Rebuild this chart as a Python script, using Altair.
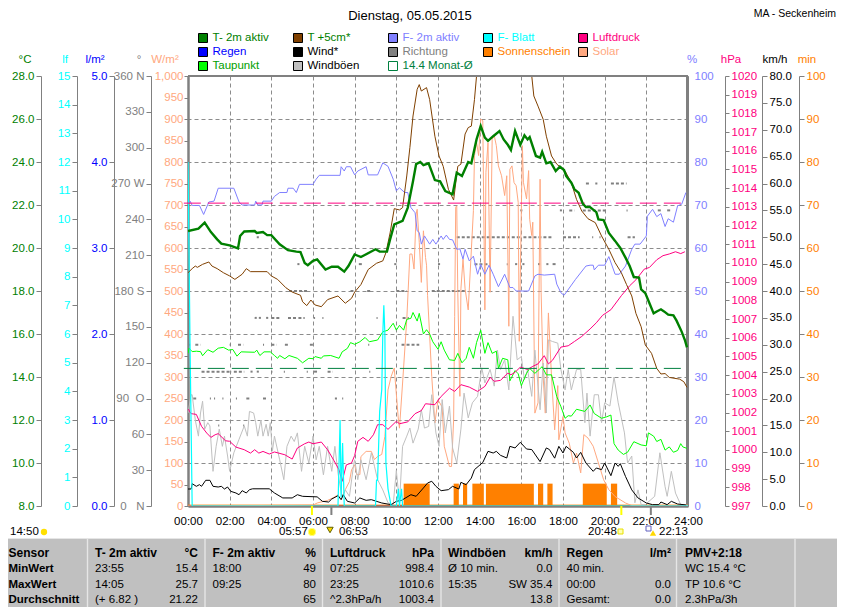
import altair as alt
import pandas as pd

FONT = "Liberation Sans"
GRAY = "#808080"
C_T = "#008000"; C_T5 = "#804000"; C_F = "#8080FF"; C_BL = "#00FFFF"; C_P = "#FF0080"
C_R = "#0000FF"; C_W = "#000000"; C_D = "#808080"; C_S = "#FF8000"; C_SOL = "#FFA880"
C_TP = "#00FF00"; C_B = "#C0C0C0"; C_M = "#008040"

T2M = [(0,20.79),(0.5,20.9),(0.8,21.18),(1.1,20.74),(1.4,20.4),(1.6,20.2),(2,20.12),(2.4,19.98),(2.5,20.56),(2.7,20.77),(3.2,20.79),(3.3,20.7),(3.6,20.74),(3.8,20.6),(4,20.6),(4.4,20.17),(4.8,19.9),(5.2,19.83),(5.4,19.81),(5.6,19.3),(5.75,19.2),(6,19.4),(6.2,19.47),(6.6,19.0),(6.9,19.13),(7.2,19.13),(7.5,18.9),(7.7,19.16),(8,19.7),(8.3,19.58),(9,19.94),(9.2,19.83),(9.55,19.83),(9.7,20.4),(9.9,21.1),(10.3,21.26),(10.55,21.88),(10.8,23.1),(10.95,23.9),(11.15,24.0),(11.3,23.85),(11.55,23.94),(11.85,23.16),(12.1,23.1),(12.35,22.65),(12.7,22.5),(12.9,23.5),(13.15,23.35),(13.45,24),(13.6,23.94),(13.85,25.05),(14.05,25.67),(14.25,25.13),(14.4,24.98),(14.65,25.2),(14.95,25.44),(15.15,25.05),(15.35,24.8),(15.5,24.56),(15.7,25.44),(15.95,24.8),(16.15,25.24),(16.3,25.05),(16.4,25.16),(16.7,24.28),(16.9,24.2),(17,24.47),(17.2,23.94),(17.4,24),(17.65,23.58),(17.85,23.78),(18.05,23.63),(18.15,23.35),(18.4,23.04),(18.55,22.73),(18.75,22.57),(18.95,22.06),(19.1,21.9),(19.3,21.9),(19.6,21.67),(19.7,21.33),(19.95,21.3),(20.2,20.7),(20.5,20.33),(20.75,20),(21,19.55),(21.2,19.16),(21.4,18.65),(21.65,18.62),(21.75,18.08),(21.95,17.9),(22.15,17.43),(22.35,16.96),(22.5,17.05),(22.7,17.15),(22.85,17.05),(23.05,16.9),(23.3,16.87),(23.45,16.62),(23.7,16.1),(23.85,15.72),(23.95,15.38)]

T5CM = [(0,18.85),(0.2,19.04),(0.35,19.16),(0.45,19.1),(0.7,19.24),(1,19.35),(1.15,19.16),(1.4,19.04),(1.7,18.85),(2,18.7),(2.25,18.54),(2.6,18.78),(2.8,19.04),(3,18.9),(3.8,18.9),(4,18.7),(4.3,18.54),(4.7,18.15),(5,17.95),(5.4,17.8),(5.5,17.5),(5.7,17.32),(5.9,17.58),(6.1,17.35),(6.4,17.27),(6.7,17.6),(7.2,17.77),(7.55,17.43),(7.85,17.66),(8,17.95),(8.3,18.3),(8.65,19),(9.05,19.29),(9.35,19.4),(9.5,19.78),(9.7,20.7),(9.9,21.83),(10.15,21.77),(10.3,21.88),(10.5,23.35),(10.65,24.67),(10.8,26.14),(11,27.38),(11.1,27.6),(11.2,27.3),(11.45,27.46),(11.6,26.9),(11.85,25.2),(12.05,24.28),(12.25,23.8),(12.5,22.73),(12.75,22.23),(12.95,23.8),(13.1,23.9),(13.3,25.3),(13.45,25.6),(13.6,25.67),(13.75,26.9),(13.85,28),(14.2,30),(15,31.5),(16,30),(16.5,28),(16.6,27.07),(16.8,26.6),(17.05,25.98),(17.2,25.2),(17.45,24.28),(17.7,23.9),(18.1,23.58),(18.4,23.04),(18.65,22.26),(18.9,21.72),(19.2,21.36),(19.55,21.18),(19.85,20.56),(20.2,19.94),(20.5,19.32),(20.8,18.85),(21.05,18.3),(21.3,17.77),(21.5,16.96),(21.75,16.34),(21.95,15.49),(22.25,15.1),(22.5,14.4),(22.7,14.14),(22.9,14.16),(23.1,13.98),(23.6,13.9),(23.8,13.78),(23.95,13.52)]

F2M = [(0,70.15),(0.1,70.9),(0.2,69.9),(0.55,69.9),(0.75,67.8),(1,70.7),(1.25,70.9),(1.45,73.9),(2.2,73.9),(2.45,70.7),(2.6,70),(3.2,70),(3.25,70.9),(3.35,70),(3.55,70),(3.6,70.9),(4,70.9),(4.15,72),(4.4,72.9),(4.75,72.9),(4.8,73.9),(5.05,73.9),(5.2,72.9),(5.35,74.8),(6,74.8),(6.15,76),(6.3,76.9),(7.3,76.9),(7.35,78.9),(7.5,77.9),(7.6,78.9),(7.8,78.9),(8,77),(8.15,77.9),(8.55,78.9),(8.65,77),(9.1,77),(9.35,79.8),(9.6,79),(9.85,76),(10,73.3),(10.15,74),(10.4,72.9),(10.55,72.9),(10.7,69.4),(10.9,68.2),(11,64),(11.1,63.6),(11.2,60.9),(11.35,62.8),(11.6,60.9),(11.75,62),(11.9,60.9),(12.15,62.8),(12.25,62),(12.4,63),(12.55,62),(12.7,61.9),(12.9,59.7),(13.05,59.8),(13.2,57.4),(13.3,59.7),(13.5,57),(13.7,58.1),(13.9,53.9),(14.05,56.2),(14.25,53.9),(14.45,56),(14.65,53.9),(14.9,51),(15.2,53.9),(15.45,50.8),(15.6,50.8),(15.75,50),(16.35,50),(16.65,53.5),(16.8,53.9),(17.1,53.7),(17.6,53.9),(17.7,51.6),(17.9,49.6),(18.05,49),(18.2,50),(18.6,52.7),(19.1,55.8),(19.3,56),(19.45,56),(19.5,54.9),(19.7,56),(20,56),(20.2,58),(20.5,53.9),(20.7,53.9),(21,55.8),(21.3,59.7),(21.45,60.9),(21.7,60.9),(22,62.8),(22.05,67.4),(22.3,69),(22.5,67.3),(22.7,68),(22.9,65),(23.05,66.8),(23.3,66),(23.5,69.8),(23.7,70.2),(23.9,72.9)]

DRUCK = [(0,1002.19),(0.15,1001.94),(0.4,1001.9),(0.65,1001.26),(0.9,1000.9),(1.1,1000.67),(1.3,1000.81),(1.45,1000.87),(1.8,1000.49),(2,1000.46),(2.3,1000.15),(2.7,1000.01),(3,999.83),(3.2,1000.01),(3.4,999.83),(3.6,999.92),(3.9,999.78),(4.15,999.89),(4.65,999.74),(5,999.51),(5.25,1000.1),(5.6,1000.33),(5.8,1000.42),(6,1000.33),(6.4,1000.42),(6.7,1000.01),(7,999.44),(7.25,998.94),(7.4,998.32),(7.6,999.2),(7.85,999.3),(8,999.7),(8.15,1000.46),(8.4,1000.67),(8.65,1000.46),(8.9,1000.81),(9.1,1001.35),(9.35,1001.35),(9.6,1001.1),(10,1001.53),(10.15,1001.4),(10.55,1001.5),(10.9,1001.94),(11.2,1002.1),(11.4,1002.47),(11.85,1002.42),(12.15,1002.86),(12.55,1003.3),(12.8,1003.13),(13.1,1003.49),(13.5,1003.36),(13.9,1003.13),(14.25,1003.4),(14.5,1003.88),(14.7,1003.67),(15,1003.72),(15.35,1004.11),(15.5,1004.02),(15.7,1004.15),(15.95,1004.43),(16.3,1004.3),(16.55,1004.47),(16.8,1004.6),(17.1,1005.04),(17.3,1004.6),(17.5,1004.8),(17.9,1005.5),(18.25,1005.57),(18.55,1005.8),(18.9,1006.07),(19.3,1006.47),(19.6,1006.8),(19.9,1007.2),(20.3,1007.5),(20.8,1008.25),(21.2,1008.78),(21.5,1009.1),(21.9,1009.67),(22.15,1009.76),(22.5,1010.17),(22.8,1010.39),(23.1,1010.48),(23.4,1010.6),(23.65,1010.5),(23.85,1010.6)]

TAUPUNKT = [(0,15.1),(0.05,15.34),(0.2,15.18),(0.4,15.2),(0.6,15.18),(0.7,14.99),(0.95,15.27),(1.2,15.15),(1.45,15.34),(1.7,15.38),(1.95,15.25),(2.15,15.28),(2.35,14.97),(2.55,15.17),(3.2,15.15),(3.3,15.25),(3.45,15.0),(3.65,15.17),(3.95,15.17),(4.15,15),(4.3,14.87),(4.4,15),(4.65,14.85),(4.85,15),(5.25,14.87),(5.5,14.66),(5.8,14.87),(6,14.85),(6.1,14.95),(6.4,14.87),(6.5,14.98),(6.85,15),(7.25,14.87),(7.4,15.17),(7.65,15.33),(7.8,15.6),(8,15.52),(8.25,15.64),(8.5,15.84),(8.7,15.64),(9.1,15.72),(9.35,16.1),(9.6,16.18),(9.85,16.5),(10,16.18),(10.15,16.4),(10.35,16.18),(10.5,16.68),(10.7,16.73),(10.8,17),(11,16.6),(11.1,16.96),(11.3,16.0),(11.45,16.2),(11.6,16.0),(11.75,15.64),(12,15.29),(12.15,15.64),(12.3,15.25),(12.55,14.8),(12.8,14.77),(12.95,15.1),(13.15,14.66),(13.35,14.87),(13.5,15.38),(13.7,14.87),(13.85,15.6),(14.05,16.18),(14.25,15.1),(14.4,15.6),(14.6,15.1),(14.8,15.2),(14.9,14.4),(15.1,14.87),(15.35,14.8),(15.45,13.82),(15.7,14.3),(15.85,14.15),(16,13.6),(16.25,14.17),(16.4,14.4),(16.65,14.17),(17,14.48),(17.2,14.1),(17.45,14.1),(17.7,13.09),(17.9,12.62),(18.1,12.08),(18.25,12.2),(18.4,12.18),(18.65,12.5),(19.05,12.4),(19.3,12.7),(19.5,12.3),(19.85,12.08),(20.1,12.15),(20.3,12.23),(20.45,10.9),(20.65,10.6),(20.9,10.4),(21.1,10.5),(21.4,10.99),(21.75,10.84),(22,10.8),(22.1,11.4),(22.35,11.25),(22.5,11),(22.7,11.1),(22.9,10.6),(23.1,10.75),(23.3,10.5),(23.5,10.58),(23.65,10.9),(23.75,10.75),(23.95,10.68)]

WIND = [(0,3.16),(0.15,3.16),(0.2,4.15),(0.4,3.66),(0.55,3.97),(0.65,3.66),(0.85,4.78),(1.05,4.78),(1.2,3.66),(1.45,3.53),(1.6,3.66),(1.75,3.16),(1.9,3.53),(2.05,2.73),(2.3,2.42),(2.45,2.1),(2.6,2.85),(2.8,2.42),(2.95,3.04),(3.1,3.2),(3.9,3.2),(4.15,2.42),(4.55,1.5),(5,1.5),(5.25,2.1),(5.5,1.8),(6.2,1.7),(6.45,0.87),(6.75,0.74),(6.9,1.3),(7.2,1.92),(7.35,1.18),(7.45,2.1),(7.65,0.87),(8,0.56),(8.25,1.5),(8.55,1.05),(8.8,1.18),(9.3,0.56),(9.75,0.25),(10,0.87),(10.25,1.05),(10.7,2.1),(10.95,1.8),(11.3,3.35),(11.5,4.28),(11.7,4.6),(11.9,3.66),(12.15,2.85),(12.5,3.04),(12.7,3.66),(13,3.16),(13.1,4.4),(13.35,3.97),(13.6,5.2),(13.75,6.76),(14.15,8.1),(14.4,10.17),(14.65,9.86),(14.8,10.17),(15,9.43),(15.3,8.93),(15.45,11.1),(15.7,10.8),(15.95,11.85),(16.25,10.6),(16.5,10.5),(16.9,8.25),(17.2,10.8),(17.35,10.5),(17.6,8.9),(17.8,11.1),(18,9.86),(18.15,11.1),(18.5,9.98),(18.65,8.93),(18.85,9.98),(19.1,8),(19.45,6.45),(19.6,7.07),(19.85,6.76),(20,8),(20.3,5.64),(20.5,8),(20.65,7.38),(20.75,7.88),(21,5.5),(21.3,3),(21.6,1.5),(22,0.56),(22.3,0.25),(22.6,0.25),(22.7,0.74),(23,0.25),(23.2,0.87),(23.5,0.37),(23.9,0.2)]

BOEEN = [(0,17.3),(0.15,20.7),(0.2,20.7),(0.35,16),(0.5,13),(0.6,17.3),(0.7,19.5),(0.8,14.3),(0.95,15.5),(1.05,14.9),(1.2,6.45),(1.35,11.1),(1.5,14.3),(1.65,11.1),(1.75,13),(1.9,9.3),(2,6.45),(2.2,9.9),(2.45,12.4),(2.7,14.9),(2.85,13),(2.95,17.6),(3.15,17.3),(3.25,15.5),(3.35,13),(3.5,16),(3.6,13),(3.75,15.2),(3.85,13),(3.95,15.5),(4.05,10.2),(4.15,13),(4.4,8.6),(4.6,4.9),(4.75,11.1),(4.95,13),(5.1,12),(5.25,13.6),(5.45,6.45),(5.6,11.1),(5.8,8),(6,13),(6.15,8.6),(6.3,11.1),(6.5,5.8),(6.7,11.1),(6.9,6.45),(7.05,11.1),(7.2,6.1),(7.4,1.5),(7.55,3),(7.75,1.8),(7.95,7.7),(8,8.6),(8.15,4.9),(8.3,8.6),(8.55,4.9),(8.8,9.9),(8.95,7.4),(9.1,4.9),(9.35,3),(9.6,0.6),(9.85,0.25),(10,6.6),(10.15,0.6),(10.3,11.1),(10.5,13),(10.65,14.5),(10.8,11.7),(11.05,14.3),(11.2,17.9),(11.35,14.5),(11.55,14.8),(11.7,20.7),(11.9,13.6),(12.05,11.1),(12.2,19.8),(12.35,13.6),(12.55,18.6),(12.7,10.8),(12.9,8),(13.1,14.3),(13.25,21),(13.45,16.4),(13.65,19.2),(13.9,20.4),(14.1,25.7),(14.25,22.9),(14.5,25.4),(14.7,22.3),(14.85,29),(15,25.4),(15.2,27.2),(15.4,21.6),(15.6,35.3),(15.8,27.2),(16,27.8),(16.15,23.5),(16.3,25.4),(16.5,20.4),(16.65,29),(16.9,17.9),(17.05,26.6),(17.2,17.3),(17.3,30.9),(17.5,30.6),(17.75,30.3),(17.9,25.4),(18.1,21.6),(18.25,25.4),(18.4,21.6),(18.65,25.4),(18.85,25.4),(19.05,15.5),(19.15,21),(19.3,13),(19.5,20.7),(19.7,20.7),(19.85,15.5),(20,19.2),(20.25,18.6),(20.45,24),(20.65,19.2),(20.8,16.4),(20.95,13.6),(21.1,8),(21.3,9.3),(21.45,0.6),(21.6,3),(21.75,0.25),(21.95,0.25),(22.4,1.8),(22.65,9.9),(22.9,3.6),(23,1.8),(23.2,6.45),(23.4,2.4),(23.65,0.25),(24,0.1)]

SOLAR = [(0,0),(6,2),(6.2,7),(6.7,13),(7,20),(7.2,26),(7.35,15),(7.55,38),(7.75,57),(7.85,84),(8,96),(8.1,73),(8.25,73),(8.3,115),(8.55,127),(8.8,127),(8.95,108),(9.1,115),(9.3,120),(9.45,162),(9.6,270),(9.75,301),(9.9,321),(10.1,200),(10.15,181),(10.3,286),(10.5,433),(10.65,586),(10.75,586),(10.85,551),(10.95,679),(11,690),(11.1,613),(11.2,520),(11.3,640),(11.4,578),(11.45,560),(11.5,489),(11.7,301),(11.85,193),(12,247),(12.2,230),(12.3,139),(12.55,92),(12.65,92),(12.75,200),(12.8,441),(12.85,695),(12.9,698),(12.95,497),(13.05,255),(13.1,505),(13.2,574),(13.3,505),(13.45,456),(13.7,687),(13.75,815),(13.85,846),(13.95,815),(14.05,900),(14.15,896),(14.25,456),(14.3,776),(14.4,845),(14.5,497),(14.6,853),(14.7,861),(14.8,838),(14.9,791),(15.05,768),(15.2,722),(15.3,768),(15.4,418),(15.45,783),(15.55,791),(15.65,752),(15.75,745),(15.85,706),(15.9,383),(16.05,838),(16.1,753),(16.25,714),(16.35,780),(16.4,667),(16.5,629),(16.55,660),(16.65,216),(16.8,240),(16.9,760),(16.95,497),(17.05,300),(17.15,216),(17.3,449),(17.45,300),(17.6,177),(17.75,280),(17.8,154),(18,208),(18.1,170),(18.3,146),(18.5,100),(18.65,123),(18.85,77),(19,166),(19.2,158),(19.45,139),(19.7,100),(19.95,61),(20.2,38),(20.5,22),(21,7),(21.3,1),(24,0)]

BLATT = [(0,12),(0.1,5.5),(0.2,0),(7.2,0),(7.3,3),(7.35,0.3),(7.42,2.2),(7.5,0),(9,0),(9.05,0.9),(9.1,0.9),(9.2,3.3),(9.3,4.06),(9.35,6),(9.4,7),(9.45,6),(9.5,1.5),(9.6,0.6),(9.75,0),(10,0),(10.1,0.6),(10.15,0),(10.25,0.6),(10.3,0),(24,0)]

REGEN = [(0,0),(24,0)]
MONAT_T = [(-0.2,14.4),(23.9,14.4)]
MONAT_P = [(-0.2,1013.2),(23.9,1013.2)]

SONNE_RUNS = [(10.35,11.6),(12.75,13.0),(13.2,13.4),(13.65,14.2),(14.3,16.6),(16.8,17.05),(17.25,17.5),(18.95,20.1),(20.3,20.6)]
SONNE_MIN = 5.2

RICHTUNG = {
    270: [(19.1,19.3),(19.55,19.65),(20.3,21.05)],
    247.5: [(15.95,16.05),(17.85,17.95),(18.3,18.55),(18.95,20.15),(21.05,21.1),(22.55,22.75),(23.0,23.2)],
    225: [(3.3,3.4),(12.9,16),(16.1,17.5),(18,18.8),(19.4,19.45),(19.75,19.8),(21.1,21.45)],
    202.5: [(5.25,5.35),(8.2,8.35),(9.9,10),(12,12.1),(13.75,14.5),(15.3,15.35),(15.7,15.8),(16.05,16.15),(16.8,16.9),(17.2,17.3),(17.5,17.7)],
    180: [(4.85,5.8),(6.7,6.8),(7.8,8),(8.6,8.8),(10,10.5),(11.7,13.3)],
    157.5: [(3.2,3.3),(3.4,3.5),(3.75,3.85),(4.0,4.4),(4.8,5.2),(5.3,5.6),(6.05,6.1),(6.45,6.5),(9.05,9.1),(10.3,10.6)],
    135: [(0.05,0.1),(0.35,0.6),(2.0,2.05),(2.4,2.65),(3.6,3.65),(4.0,4.25),(4.65,4.8),(5.85,6.0),(8.65,8.7),(10.25,11.1)],
    112.5: [(0.65,2.1),(2.2,2.7),(3,3.1),(3.3,3.4),(4.0,4.05),(4.6,4.65),(5.7,5.75),(6.05,6.25),(6.7,6.95),(8.7,8.75)],
    90: [(0.25,0.4),(1.05,1.1),(1.25,1.3),(1.65,1.7),(2.3,2.35),(2.8,2.95),(3.6,3.75),(7.05,7.15),(7.4,7.45)],
    67.5: [(1.45,1.5),(2.65,2.7)],
}

SUN_EVENTS = [(5.95,"#FFFF00"),(6.883,GRAY),(20.8,"#FFFF00"),(22.217,GRAY)]

LEGEND_COLS = [
    [("T- 2m aktiv",C_T,C_T),("Regen",C_R,C_R),("Taupunkt",C_TP,"#00A000")],
    [("T +5cm*",C_T5,C_T),("Wind*",C_W,C_W),("Windböen",C_B,C_W)],
    [("F- 2m aktiv",C_F,C_F),("Richtung",C_D,C_D),("14.4 Monat-Ø",None,C_M)],
    [("F- Blatt",C_BL,C_BL),("Sonnenschein",C_S,C_S)],
    [("Luftdruck",C_P,C_P),("Solar",C_SOL,C_SOL)],
]
AXIS_TITLES = [("°C",C_T),("lf",C_BL),("l/m²",C_R),("°",C_D),("W/m²",C_SOL),("%",C_F),("hPa",C_P),("km/h",C_W),("min",C_S)]

TABLE_L = [
    ["Sensor","MinWert","MaxWert","Durchschnitt","05.05. 23:55"],
    ["T- 2m aktiv","  23:55","  14:05","  (+ 6.82 )",""],
    ["F- 2m aktiv","  18:00","  09:25","","  0.69 g/m³"],
    ["Luftdruck","  07:25","  23:25","^2.3hPa/h","  aktuell"],
    ["Windböen","Ø 10 min.","  15:35","","  0.0° / N"],
    ["Regen","40 min.","  00:00","Gesamt:","  0.0 l/h"],
    ["PMV+2:18","WC 15.4 °C","TP 10.6 °C","2.3hPa/3h","0.3hPa/1h"],
]
TABLE_R = [
    ["°C","15.4","25.7","21.22","15.4"],
    ["%","49","80","65","73"],
    ["hPa","998.4","1010.6","1003.4","1010.6"],
    ["km/h","0.0","SW 35.4","13.8","0.0"],
    ["l/m²","","0.0","0.0","0.0"],
]

# ---------------- helpers -----------------
X0, Y0, W, H = 188, 76, 500, 430


def frame(rows):
    return pd.DataFrame(rows, columns=["h", "v"])


def y_axis(color, ticks, orient, offset, fmt=None, line=GRAY, dw=1, ts=5, lp=2, expr=None, **kw):
    a = dict(orient=orient, offset=offset, values=ticks, title=None, labelColor=color, labelFont=FONT,
             labelFontSize=11.5, domainColor=line, domainWidth=dw, tickColor=line, tickSize=ts, labelPadding=lp,
             labelOverlap=False, labelBound=False, labelFlush=False, grid=False)
    if fmt:
        a["format"] = fmt
    if expr:
        a["labelExpr"] = expr
    a.update(kw)
    return alt.Axis(**a)


X_SCALE = alt.Scale(domain=[0, 24], nice=False, zero=False)
X_AX = alt.Axis(
    values=list(range(0, 25, 2)), title=None, labelExpr="(datum.value<10?'0':'')+datum.value+':00'",
    labelFont=FONT, labelFontSize=11.5, labelColor="black", labelPadding=9, tickSize=0,
    domainColor=GRAY, domainWidth=2.5, grid=True, gridColor="#8C8C8C", gridDash=[4, 3], labelFlush=False,
    labelOverlap=False, labelBound=False)
XH = alt.X("h:Q", scale=X_SCALE, axis=X_AX, title=None)


def line(rows, color, domain, axis=None, width=1.0, dash=None, clip=True):
    opts = dict(color=color, strokeWidth=width, clip=clip, interpolate="linear")
    if dash:
        opts["strokeDash"] = dash
    return alt.Chart(frame(rows)).mark_line(**opts).encode(
        x=XH, y=alt.Y("v:Q", scale=alt.Scale(domain=domain, nice=False, zero=False), axis=axis))


ONE = alt.Data(values=[{"a": 1}])


def txt(s, px, py, color="black", size=11.5, align="left", weight="normal"):
    return alt.Chart(ONE).mark_text(text=s.replace("  ", "\u00a0\u00a0"), color=color, fontSize=size, font=FONT, align=align,
                                    baseline="middle", fontWeight=weight).encode(
        x=alt.value(px - X0), y=alt.value(py - Y0))


def box(x1, y1, x2, y2, fill, stroke=None):
    opts = dict(fill=fill) if fill else dict(fillOpacity=0)
    if stroke:
        opts.update(stroke=stroke, strokeWidth=1)
    return alt.Chart(ONE).mark_rect(**opts).encode(
        x=alt.value(x1 - X0), x2=alt.value(x2 - X0), y=alt.value(y1 - Y0), y2=alt.value(y2 - Y0))


def glyph(px, py, shape, fill, size, stroke=None):
    opts = dict(shape=shape, filled=True, fill=fill, size=size, opacity=1)
    if stroke:
        opts.update(stroke=stroke, strokeWidth=1)
    return alt.Chart(ONE).mark_point(**opts).encode(x=alt.value(px - X0), y=alt.value(py - Y0))


layers = []

# table background
layers.append(box(0, 538, 845, 625, "#C0C0C0"))
layers.append(box(0, 538, 845, 539, "#E6E6E6"))
for sx in [87.5, 205, 322.5, 441, 559, 676.5, 795]:
    layers.append(box(sx - 0.7, 538, sx + 0.7, 625, "#E6E6E6"))

# sunshine bars (min axis)
son = pd.DataFrame([{"h": a, "b": b, "y0": 0, "y1": SONNE_MIN} for a, b in SONNE_RUNS])
layers.append(alt.Chart(son).mark_rect(color=C_S, clip=True).encode(
    x=XH, x2="b:Q",
    y=alt.Y("y0:Q", scale=alt.Scale(domain=[0, 100], nice=False, zero=False),
            axis=y_axis(C_S, list(range(0, 101, 10)), "right", 111)),
    y2="y1:Q"))

# rain (l/m²) line at zero
layers.append(line(REGEN, C_R, [0, 5], y_axis(C_R, [0, 1, 2, 3, 4, 5], "left", 74, ".1f")))
# sunshine base line
layers.append(line([(0, 0.2), (24, 0.2)], C_S, [0, 100]))

# direction
rows = [{"h": a, "b": b, "d": d} for d, runs in RICHTUNG.items() for a, b in runs]
DIR_EXPR = ("datum.value==360?'360 N':datum.value==270?'270 W':datum.value==180?'180 S':"
            "datum.value==90?'90\u00a0\u00a0O':datum.value==0?'0\u00a0\u00a0\u00a0N':datum.label")
layers.append(alt.Chart(pd.DataFrame(rows)).mark_rule(color=C_D, strokeWidth=2, strokeDash=[3, 2]).encode(
    x=XH, x2="b:Q",
    y=alt.Y("d:Q", scale=alt.Scale(domain=[0, 360], nice=False, zero=False),
            axis=y_axis(C_D, list(range(0, 361, 30)), "left", 37, expr=DIR_EXPR))))

# series, axes attached
layers.append(line(SOLAR, C_SOL, [0, 1000], y_axis(C_SOL, list(range(0, 1001, 50)), "left", 0, dw=2.5, ts=4, lp=1), width=1))
layers.append(line(BOEEN, C_B, [0, 80], y_axis(C_W, [i * 5 for i in range(17)], "right", 74, ".1f"), width=1))
layers.append(line(F2M, C_F, [0, 100], y_axis(C_F, list(range(0, 101, 10)), "right", -1, dw=3, ts=0, lp=7, grid=True,
                                             gridColor="#8C8C8C", gridDash=[4, 3])))
layers.append(line(TAUPUNKT, C_TP, [8, 28], width=1))
layers.append(line(DRUCK, C_P, [997, 1020], y_axis(C_P, list(range(997, 1021)), "right", 37, "d", ts=4, lp=2), width=1))
layers.append(line(WIND, C_W, [0, 80], width=1))
layers.append(line(BLATT, C_BL, [0, 15], y_axis(C_BL, list(range(16)), "left", 111, "d"), width=1.2))
layers.append(line(T5CM, C_T5, [8, 28], width=1))
layers.append(line(MONAT_T, C_M, [8, 28], width=1, dash=[17, 7], clip=False))
layers.append(line(MONAT_P, C_P, [997, 1020], width=1, dash=[17, 7], clip=False))
layers.append(line(T2M, C_T, [8, 28], y_axis(C_T, list(range(8, 29, 2)), "left", 147, ".1f"), width=2.4))

# top frame
layers.append(box(X0, Y0 - 1, X0 + W, Y0 + 1, GRAY))

# sun event marks
ev = pd.DataFrame(SUN_EVENTS, columns=["h", "c"])
layers.append(alt.Chart(ev).mark_rule(strokeWidth=2).encode(
    x=XH, y=alt.value(H), y2=alt.value(H + 9), color=alt.Color("c:N", scale=None)))

# titles
layers.append(txt("Dienstag, 05.05.2015", 410, 16, size=13))
layers[-1] = txt("Dienstag, 05.05.2015", 410, 16, size=13, align="center")
layers.append(txt("MA - Seckenheim", 836, 14, size=10.5, align="right"))

# legend
COL_X = [198.5, 293.5, 388.5, 483.5, 578.5]
ROW_Y = [38, 52, 66]
for cx, col in zip(COL_X, LEGEND_COLS):
    for ry, (name, sw, tc) in zip(ROW_Y, col):
        if sw:
            layers.append(box(cx, ry - 4.5, cx + 9, ry + 4.5, sw, "black"))
        else:
            layers.append(box(cx, ry - 4.5, cx + 9, ry + 4.5, None, C_M))
        layers.append(txt(name, cx + 14, ry, color=tc, size=11.5))

# axis titles
for (s, c), px in zip(AXIS_TITLES, [25, 65, 95, 139, 165, 692, 731, 775, 807]):
    layers.append(txt(s, px, 60, color=c, size=11.5, align="center"))

# sun times under the axis
layers.append(txt("14:50", 10, 532))
layers.append(glyph(44, 532, "circle", "#FFE000", 40))
layers.append(txt("05:57", 279, 532))
layers.append(glyph(312, 532, "circle", "#FFF000", 55, "#FFFF80"))
layers.append(glyph(330, 530, "triangle-down", "#FFD800", 40, "#606000"))
layers.append(txt("06:53", 339, 532))
layers.append(txt("20:48", 588, 532))
layers.append(box(618, 529, 623, 534, "#FFFFB0", "#E8E000"))
layers.append(box(646, 526, 651, 531, None, "#6060C0"))
layers.append(glyph(653, 533, "triangle-up", "#FFD800", 40))
layers.append(txt("22:13", 659, 532))

# table text
ROWS_Y = [553, 569, 585, 600, 613]
for px, col in zip([8.5, 95, 212.5, 330, 448, 566.5, 685], TABLE_L):
    for ry, s in zip(ROWS_Y, col):
        if s:
            layers.append(txt(s, px, ry, size=12 if ry == 553 else 11.5, weight="bold" if ry == 553 or px == 8.5 else "normal"))
for px, col in zip([198, 316, 434, 552.5, 671], TABLE_R):
    for ry, s in zip(ROWS_Y, col):
        if s:
            layers.append(txt(s, px, ry, size=12 if ry == 553 else 11.5, align="right",
                              weight="bold" if ry in (553, 613) else "normal"))

chart = alt.layer(*layers).resolve_scale(y="independent").properties(
    width=W, height=H,
    padding={"left": X0 - 8, "top": Y0 - 8, "right": 829 - (X0 - 8) - W, "bottom": 599 - (Y0 - 8) - H},
    autosize=alt.AutoSizeParams(type="none"),
).configure_view(stroke=None)

chart.save("out.html", embed_options={"renderer": "svg", "actions": False})
